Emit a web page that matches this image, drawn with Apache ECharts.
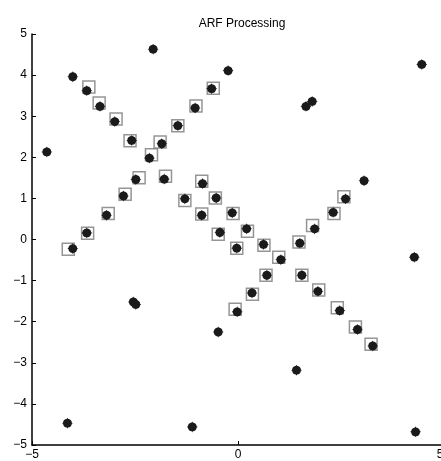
<!DOCTYPE html>
<html>
<head>
<meta charset="utf-8">
<script src="https://cdn.jsdelivr.net/npm/echarts@6/dist/echarts.min.js"></script>
<style>
html,body{margin:0;padding:0;background:#fff;overflow:hidden;width:441px;height:461px;}
#chart{width:460px;height:461px;}
</style>
</head>
<body>
<div id="chart"></div>
<script>
// Outlier points (no square)
var outlierPoints = [
  [-4.01, 3.96], [-2.06, 4.63], [-0.24, 4.11], [1.65, 3.24], [1.80, 3.36],
  [4.46, 4.26], [-4.64, 2.13], [3.06, 1.43], [4.28, -0.43], [-2.54, -1.52],
  [-2.48, -1.58], [-0.48, -2.25], [-4.14, -4.47], [-1.11, -4.56], [1.42, -3.18],
  [4.31, -4.68]
];
// Inlier points (drawn with a square)
var inlierPoints = [
  [-3.67, 3.62], [-3.35, 3.24], [-2.99, 2.87], [-1.46, 2.77], [-1.04, 3.20],
  [-0.64, 3.67], [-2.58, 2.41], [-1.85, 2.33], [-2.15, 1.98], [-2.48, 1.46],
  [-1.79, 1.47], [-2.78, 1.06], [-1.29, 0.99], [-0.86, 1.36], [-0.53, 1.01],
  [-3.19, 0.59], [-0.88, 0.59], [-0.14, 0.65], [-3.67, 0.16], [-0.44, 0.17],
  [0.21, 0.26], [-4.01, -0.22], [-0.03, -0.21], [0.62, -0.12], [1.04, -0.49],
  [1.50, -0.09], [1.86, 0.26], [2.31, 0.66], [2.61, 0.99], [0.70, -0.87],
  [1.55, -0.87], [0.34, -1.30], [1.94, -1.26], [-0.02, -1.76], [2.47, -1.73],
  [2.90, -2.19], [3.27, -2.59]
];
// Square markers (model positions)
var squarePoints = [
  [-3.62, 3.71], [-3.37, 3.32], [-2.96, 2.93], [-1.46, 2.77], [-1.02, 3.25],
  [-0.60, 3.68], [-2.62, 2.40], [-1.89, 2.37], [-2.10, 2.06], [-2.40, 1.50],
  [-1.76, 1.54], [-2.74, 1.10], [-1.29, 0.95], [-0.88, 1.42], [-0.55, 1.01],
  [-3.15, 0.63], [-0.88, 0.62], [-0.12, 0.63], [-3.65, 0.15], [-0.48, 0.13],
  [0.23, 0.20], [-4.12, -0.24], [-0.03, -0.21], [0.63, -0.14], [0.99, -0.43],
  [1.48, -0.06], [1.81, 0.34], [2.33, 0.63], [2.57, 1.04], [0.68, -0.87],
  [1.55, -0.87], [0.35, -1.33], [1.96, -1.23], [-0.07, -1.70], [2.41, -1.66],
  [2.85, -2.13], [3.23, -2.55]
];
var titleText = 'ARF Processing';
var axisMin = -5, axisMax = 5;

var chart = echarts.init(document.getElementById('chart'), null, {renderer: 'canvas'});
var font = 'Liberation Sans, Arial, sans-serif';
var dotSymbol = 'path://M50,0 L55,10 A40,40 0 0 1 90,45 L100,50 L90,55 A40,40 0 0 1 55,90 L50,100 L45,90 A40,40 0 0 1 10,55 L0,50 L10,45 A40,40 0 0 1 45,10 Z';
function fmt(v) { return v < 0 ? '\u2212' + Math.abs(v) : String(v); }
function fmtX(v) { return v === axisMax ? '{edge|' + fmt(v) + '}' : fmt(v); }
chart.setOption({
  animation: false,
  backgroundColor: '#fff',
  title: {
    text: titleText,
    left: 237, top: 13,
    textAlign: 'center',
    textStyle: {fontFamily: font, fontSize: 12, fontWeight: 'normal', color: '#000'}
  },
  grid: {left: 32, top: 34, width: 412, height: 412, containLabel: false},
  xAxis: {
    type: 'value', min: axisMin, max: axisMax, interval: 5,
    axisLine: {show: true, onZero: false, lineStyle: {color: '#000', width: 1.5}},
    axisTick: {show: true, inside: true, length: 4, lineStyle: {color: '#000'}},
    axisLabel: {margin: 4, color: '#000', fontFamily: font, fontSize: 12, formatter: fmtX,
      rich: {edge: {fontFamily: font, fontSize: 12, color: '#000', padding: [0, 8, 0, 0]}}},
    splitLine: {show: false}
  },
  yAxis: {
    type: 'value', min: axisMin, max: axisMax, interval: 1,
    axisLine: {show: true, onZero: false, lineStyle: {color: '#000', width: 1.5}},
    axisTick: {show: true, inside: true, length: 4, lineStyle: {color: '#000'}},
    axisLabel: {margin: 5, color: '#000', fontFamily: font, fontSize: 12, formatter: fmt},
    splitLine: {show: false}
  },
  series: [
    {
      type: 'scatter', data: squarePoints, symbol: 'rect', symbolSize: 12,
      itemStyle: {color: 'rgba(0,0,0,0)', borderColor: '#7a7a7a', borderWidth: 1.5},
      z: 2
    },
    {
      type: 'scatter', data: inlierPoints, symbol: dotSymbol, symbolSize: 11,
      itemStyle: {color: '#1a1a1a', opacity: 1}, z: 3
    },
    {
      type: 'scatter', data: outlierPoints, symbol: dotSymbol, symbolSize: 11,
      itemStyle: {color: '#1a1a1a', opacity: 1}, z: 3
    }
  ]
});
</script>
</body>
</html>
